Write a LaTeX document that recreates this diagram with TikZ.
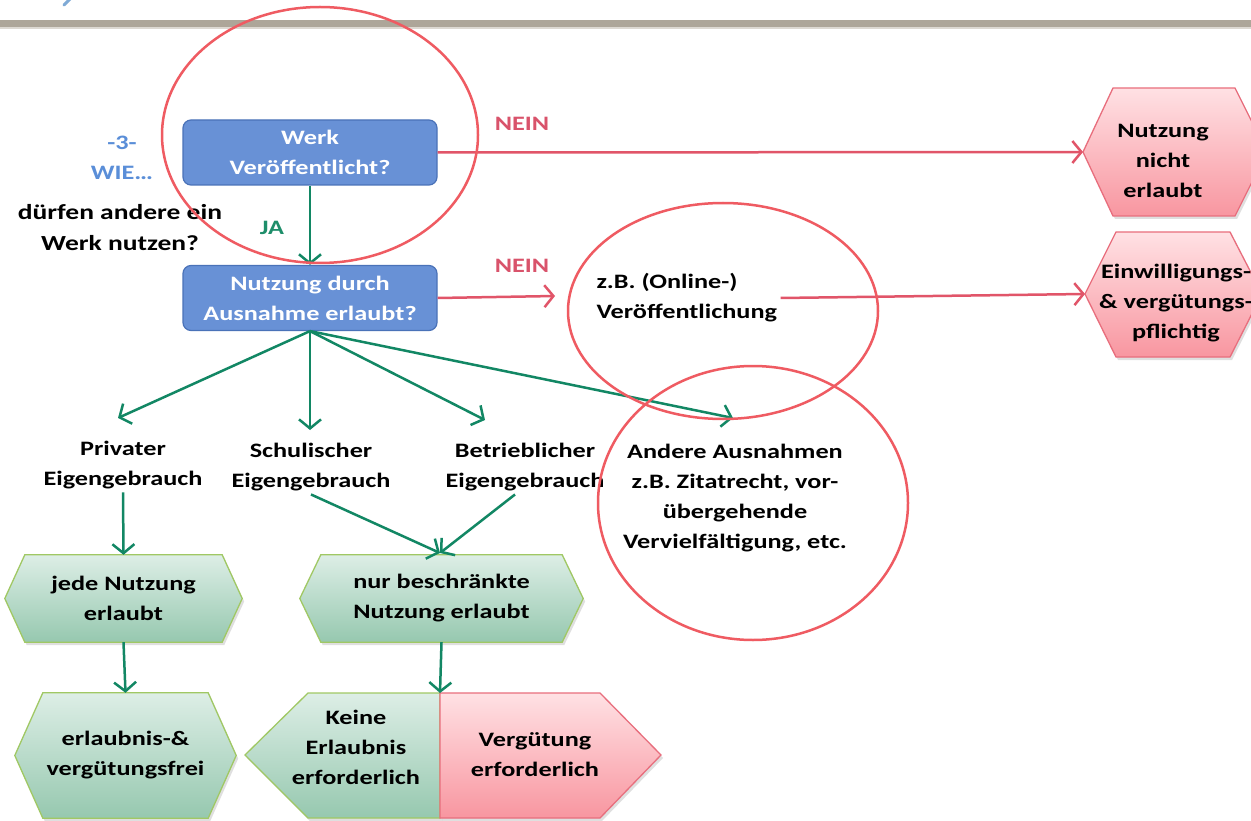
\documentclass[tikz,border=0pt]{standalone}
\usepackage{fontspec}
\setmainfont{Carlito}[FakeStretch=1.28]
\usetikzlibrary{arrows.meta,shadows,backgrounds}

\definecolor{boxblue}{HTML}{6891D6}
\definecolor{boxedge}{HTML}{4A72B8}
\definecolor{wieblue}{HTML}{5A8ED8}
\definecolor{arrgreen}{HTML}{128764}
\definecolor{jagreen}{HTML}{1E8E6A}
\definecolor{arrred}{HTML}{E15569}
\definecolor{neinred}{HTML}{D9536B}
\definecolor{ringred}{HTML}{EF5B62}
\definecolor{greentop}{HTML}{DDEEE6}
\definecolor{greenbot}{HTML}{96C8AF}
\definecolor{greenedge}{HTML}{A0C864}
\definecolor{pinktop}{HTML}{FFE1E4}
\definecolor{pinkbot}{HTML}{F896A0}
\definecolor{pinkedge}{HTML}{E86E7D}
\definecolor{bargray}{HTML}{ADA699}
\definecolor{barlight}{HTML}{DDD9D2}
\definecolor{titleblue}{HTML}{7FAAD6}

% hexagonal outline around a rectangular node: #1 node, #2 tip length, #3 style
\newcommand\hexaround[3]{%
  \path[#3] (#1.north west) -- (#1.north east) -- ([xshift=#2]#1.east)
    -- (#1.south east) -- (#1.south west) -- ([xshift=-#2]#1.west) -- cycle;}

\begin{document}
\begin{tikzpicture}[x=1pt,y=-1pt,
  every node/.style={font=\fontsize{20.5}{30}\selectfont\bfseries, align=center},
  qbox/.style={draw=boxedge, fill=boxblue, text=white, line width=1.2pt,
    rounded corners=8pt, minimum width=254pt, minimum height=65pt},
  hexnode/.style={inner sep=0pt},
  greenhex/.style={draw=greenedge, line width=1.3pt, top color=greentop, bottom color=greenbot,
    drop shadow={opacity=0.25, shadow xshift=2pt, shadow yshift=-3pt}},
  pinkhex/.style={draw=pinkedge, line width=1.3pt, top color=pinktop, bottom color=pinkbot,
    drop shadow={opacity=0.25, shadow xshift=2pt, shadow yshift=-3pt}},
  garrow/.style={draw=arrgreen, line width=2.5pt, -{Straight Barb[length=9pt,width=22pt]}},
  rarrow/.style={draw=arrred, line width=2.5pt, -{Straight Barb[length=9pt,width=22pt]}},
  ring/.style={draw=ringred, line width=2.5pt}]

\useasboundingbox (0,0) rectangle (1251,821);

% header rule and title stroke
\fill[bargray] (0,20) rectangle (1251,27.5);
\fill[barlight] (0,27.5) rectangle (1251,29.5);
\draw[titleblue, line width=3pt, line cap=round] (70,-1) -- (64,5);

% side heading
\node[text=wieblue] (wie) at (122,158) {-3-\\WIE…};
\node[font=\fontsize{21.5}{31}\selectfont\bfseries] (frage) at (120,228) {dürfen andere ein\\Werk nutzen?};

% question boxes
\node[qbox] (werk) at (310,152.5) {Werk\\Veröffentlicht?};
\node[qbox] (ausn) at (310,298) {Nutzung durch\\Ausnahme erlaubt?};

% right-hand result shapes
\coordinate (nneTip) at (1083,152);
\coordinate (ewpTip) at (1085,294);
\path[pinkhex] (nneTip) -- (1113,88) -- (1235,88) -- (1267,152) -- (1235,216) -- (1113,216) -- cycle;
\path[pinkhex] (ewpTip) -- (1116,232) -- (1230,232) -- (1262,294) -- (1230,357) -- (1116,357) -- cycle;
\node (nne) at (1163,161) {Nutzung\\nicht\\erlaubt};
\node (ewp) at (1176,303) {Einwilligungs-\\\& vergütungs-\\pflichtig};

% example of an unauthorised use
\node[anchor=west, align=left] (online) at (593,298) {z.B. (Online-)\\Veröffentlichung};

% exceptions
\node (priv) at (123,465) {Privater\\Eigengebrauch};
\node (schul) at (311,467) {Schulischer\\Eigengebrauch};
\node (betr) at (525,467) {Betrieblicher\\Eigengebrauch};
\node (andere) at (735,498) {Andere Ausnahmen\\z.B. Zitatrecht, vor-\\übergehende\\Vervielfältigung, etc.};

% consequences
\node[hexnode, minimum width=197pt, minimum height=87pt] (jede) at (123.5,598.5) {jede Nutzung\\erlaubt};
\node[hexnode, minimum width=241pt, minimum height=87pt] (nur) at (441.5,598.5) {nur beschränkte\\Nutzung erlaubt};
\node[hexnode, minimum width=165pt, minimum height=125pt] (erl) at (125.5,755.5) {erlaubnis-\&\\vergütungsfrei};
\begin{scope}[on background layer]
  \fill[white] (0,0) rectangle (1251,821);
  \hexaround{jede}{20}{greenhex}
  \hexaround{nur}{21}{greenhex}
  \hexaround{erl}{28}{greenhex}
\end{scope}

% split result: no permission needed, but remuneration
\coordinate (divTop) at (440,693);
\path[greenhex] (245,755) -- (308,693) -- (divTop) -- (440,818) -- (308,818) -- cycle;
\path[pinkhex] (divTop) -- (600,693) -- (661,755) -- (600,818) -- (440,818) -- cycle;
\node (keine) at (356,747) {Keine\\Erlaubnis\\erforderlich};
\node (verg) at (535,755) {Vergütung\\erforderlich};

% connectors
\draw[garrow] (werk.south) -- (ausn.north);
\node[text=jagreen] (ja) at (272,228) {JA};

\draw[rarrow] (werk.east) -- (nneTip);
\node[text=neinred] (nein1) at (522,124) {NEIN};
\coordinate (neinEnd) at (555,296);
\draw[rarrow] (ausn.east) -- (neinEnd);
\node[text=neinred] (nein2) at (522,266) {NEIN};
\draw[rarrow] (online.east) -- (ewpTip);

\coordinate (tPriv) at (118,418);
\coordinate (tSchul) at (310,430);
\coordinate (tBetr) at (485,420);
\coordinate (tAndere) at (733,418);
\draw[garrow] (ausn.south) -- (tPriv);
\draw[garrow] (ausn.south) -- (tSchul);
\draw[garrow] (ausn.south) -- (tBetr);
\draw[garrow] (ausn.south) -- (tAndere);

\coordinate (nurTop) at (440,553);
\draw[garrow] (priv.south) -- (jede.north);
\draw[garrow] (schul.south) -- (nurTop);
\draw[garrow] (betr.250) -- (nurTop);
\draw[garrow] (jede.south) -- (erl.north);
\draw[garrow] (nur.south) -- (divTop);

% highlight rings
\draw[ring] (320,135) ellipse [x radius=158, y radius=128];
\draw[ring] (723,311) ellipse [x radius=155, y radius=108];
\draw[ring] (753,503) ellipse [x radius=155, y radius=137];

\end{tikzpicture}
\end{document}
